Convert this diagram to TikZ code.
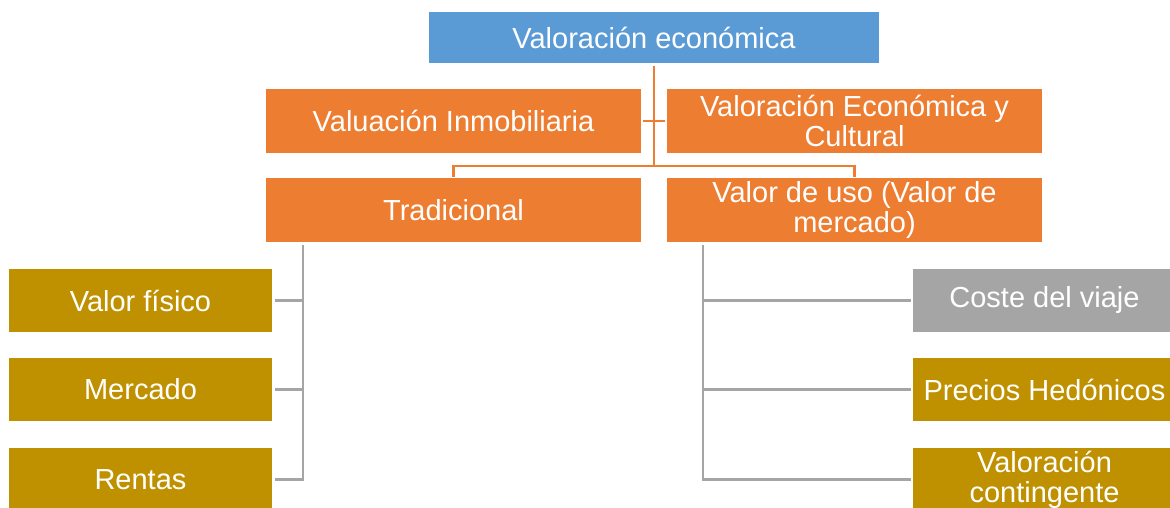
\documentclass[tikz,border=0pt]{standalone}
\usepackage{fontspec}
\setmainfont{Liberation Sans}
\usepackage[dvipsnames]{xcolor}
\definecolor{chartblue}{HTML}{5B9BD5}
\definecolor{chartorange}{HTML}{ED7D31}
\definecolor{chartgold}{HTML}{BF9000}
\definecolor{chartgray}{HTML}{A5A5A5}

\begin{document}
\begin{tikzpicture}[x=1pt,y=-1pt,line cap=rect,
    org node/.style={rectangle,inner sep=0pt,text=white,align=center,font=\fontsize{29}{30}\selectfont,minimum width=375pt,minimum height=64pt,fill=chartorange},
    leaf node/.style={org node,minimum width=263pt,minimum height=63pt,fill=chartgold},
    org line/.style={draw=chartorange,line width=2.6pt},
    leaf line/.style={draw=chartgray,line width=2.6pt}]
                \useasboundingbox (0,0) rectangle (1170,508);
                \clip (0,0) rectangle (1170,508);

                \node[org node,fill=chartblue,minimum width=450pt,minimum height=51pt] (top) at (654,37.5) {Valoración económica};
                \node[org node] (inmob) at (453.5,121) {Valuación Inmobiliaria};
                \node[org node] (cultural) at (854.5,121) {Valoración Económica y\\Cultural};
                \node[org node] (trad) at (453.5,210) {Tradicional};
                \node[org node] (uso) at (854.5,210) {Valor de uso (Valor de\\mercado)};

                \node[leaf node] (fisico) at (140.5,300.5) {Valor físico};
                \node[leaf node] (mercado) at (140.5,389.5) {Mercado};
                \node[leaf node] (rentas) at (140.5,479.5) {Rentas};
                \node[leaf node,fill=chartgray] (viaje) at (1044.5,300.5) {Coste del viaje};
                \node[leaf node] (hedon) at (1044.5,389.5) {Precios Hedónicos};
                \node[leaf node] (conting) at (1044.5,479.5) {Valoración\\contingente};

                \coordinate (hub) at (654,166);
                \coordinate (lspine) at (303,246);
                \coordinate (rspine) at (703,246);

                % upper tree
                \draw[org line] ([yshift=-4pt]top.south) -- (hub);
                \draw[org line] ([xshift=3pt]inmob.east) -- ([xshift=-3pt]cultural.west);
                \draw[org line] ([yshift=2pt]trad.north) |- (hub) -| ([yshift=2pt]uso.north);

                % left branch
                \draw[leaf line] (lspine) |- ([xshift=4pt]rentas.east);
                \draw[leaf line] ([xshift=4pt]fisico.east) -- (fisico.east -| lspine);
                \draw[leaf line] ([xshift=4pt]mercado.east) -- (mercado.east -| lspine);

                % right branch
                \draw[leaf line] (rspine) |- ([xshift=-3pt]conting.west);
                \draw[leaf line] (rspine |- viaje.west) -- ([xshift=-3pt]viaje.west);
                \draw[leaf line] (rspine |- hedon.west) -- ([xshift=-3pt]hedon.west);
            \end{tikzpicture}
\end{document}
